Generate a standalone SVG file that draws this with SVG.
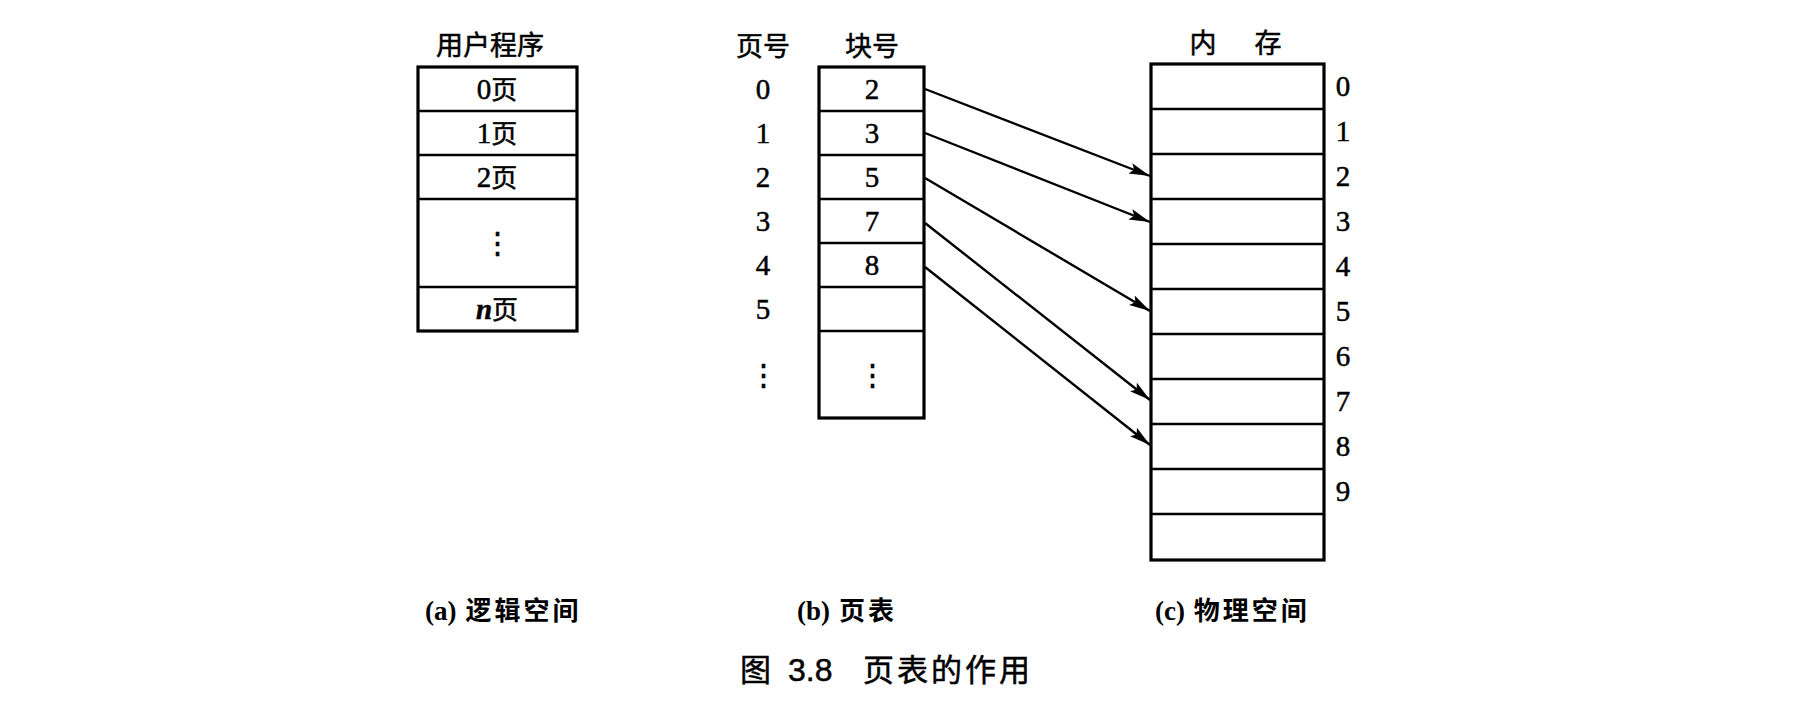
<svg xmlns="http://www.w3.org/2000/svg" width="1796" height="724" viewBox="0 0 1796 724">
<style>
.box{fill:#fff;stroke:#000;stroke-width:3.2}
.ln{stroke:#000;stroke-width:2.4}
.num{font-family:"Liberation Serif","Noto Sans CJK SC",serif;font-size:29px;fill:#000;stroke:#000;stroke-width:0.5;text-anchor:middle}
.cjk{font-family:"Noto Sans CJK SC",sans-serif;font-size:26px}
.hdr{font-family:"Noto Sans CJK SC",sans-serif;font-size:27px;fill:#000;stroke:#000;stroke-width:0.5;text-anchor:middle}
.cap{font-family:"Noto Sans CJK SC",sans-serif;font-size:26px;font-weight:bold;fill:#000;letter-spacing:3px}
.capl{font-family:"Liberation Serif",serif;font-size:27px;font-weight:bold;letter-spacing:0}
.title{font-family:"Noto Sans CJK SC",sans-serif;font-size:31px;fill:#000;stroke:#000;stroke-width:0.5}
.tnum{font-family:"Liberation Sans",sans-serif;font-size:32px}
.conn{stroke:#000;stroke-width:2.4;fill:none;marker-end:url(#ah)}
</style>
<defs>
<marker id="ah" markerUnits="userSpaceOnUse" markerWidth="24" markerHeight="12" refX="21" refY="6" orient="auto">
<path d="M0,0.5 L21,6 L0,11.5 L4,6 z" fill="#000"/>
</marker>
</defs>
<rect width="1796" height="724" fill="#fff"/>

<g id="program">
<text class="hdr" x="490" y="55">用户程序</text>
<rect class="box" x="418" y="67" width="159" height="264"/>
<line class="ln" x1="418" y1="111" x2="577" y2="111"/>
<line class="ln" x1="418" y1="155" x2="577" y2="155"/>
<line class="ln" x1="418" y1="199" x2="577" y2="199"/>
<line class="ln" x1="418" y1="287" x2="577" y2="287"/>
<text class="num" x="497" y="99">0<tspan class="cjk">页</tspan></text>
<text class="num" x="497" y="143">1<tspan class="cjk">页</tspan></text>
<text class="num" x="497" y="187">2<tspan class="cjk">页</tspan></text>
<text class="num" x="497" y="253">⋮</text>
<text class="num" x="497" y="319"><tspan font-style="italic" font-weight="bold">n</tspan><tspan class="cjk">页</tspan></text>
</g>

<g id="pagetable">
<text class="hdr" x="763" y="56">页号</text>
<text class="hdr" x="872" y="56">块号</text>
<rect class="box" x="819" y="67" width="105" height="351"/>
<line class="ln" x1="819" y1="111" x2="924" y2="111"/>
<line class="ln" x1="819" y1="155" x2="924" y2="155"/>
<line class="ln" x1="819" y1="199" x2="924" y2="199"/>
<line class="ln" x1="819" y1="243" x2="924" y2="243"/>
<line class="ln" x1="819" y1="287" x2="924" y2="287"/>
<line class="ln" x1="819" y1="331" x2="924" y2="331"/>
<text class="num" x="763" y="99">0</text>
<text class="num" x="763" y="143">1</text>
<text class="num" x="763" y="187">2</text>
<text class="num" x="763" y="231">3</text>
<text class="num" x="763" y="275">4</text>
<text class="num" x="763" y="319">5</text>
<text class="num" x="763" y="385">⋮</text>
<text class="num" x="872" y="99">2</text>
<text class="num" x="872" y="143">3</text>
<text class="num" x="872" y="187">5</text>
<text class="num" x="872" y="231">7</text>
<text class="num" x="872" y="275">8</text>
<text class="num" x="872" y="385">⋮</text>
</g>

<g id="memory">
<text class="hdr" x="1203" y="53">内</text>
<text class="hdr" x="1268" y="53">存</text>
<rect class="box" x="1151" y="64" width="173" height="496"/>
<line class="ln" x1="1151" y1="109" x2="1324" y2="109"/>
<line class="ln" x1="1151" y1="154" x2="1324" y2="154"/>
<line class="ln" x1="1151" y1="199" x2="1324" y2="199"/>
<line class="ln" x1="1151" y1="244" x2="1324" y2="244"/>
<line class="ln" x1="1151" y1="289" x2="1324" y2="289"/>
<line class="ln" x1="1151" y1="334" x2="1324" y2="334"/>
<line class="ln" x1="1151" y1="379" x2="1324" y2="379"/>
<line class="ln" x1="1151" y1="424" x2="1324" y2="424"/>
<line class="ln" x1="1151" y1="469" x2="1324" y2="469"/>
<line class="ln" x1="1151" y1="514" x2="1324" y2="514"/>
<text class="num" x="1343" y="96">0</text>
<text class="num" x="1343" y="141">1</text>
<text class="num" x="1343" y="186">2</text>
<text class="num" x="1343" y="231">3</text>
<text class="num" x="1343" y="276">4</text>
<text class="num" x="1343" y="321">5</text>
<text class="num" x="1343" y="366">6</text>
<text class="num" x="1343" y="411">7</text>
<text class="num" x="1343" y="456">8</text>
<text class="num" x="1343" y="501">9</text>
</g>

<g id="connectors">
<line class="conn" x1="925" y1="89" x2="1150" y2="176"/>
<line class="conn" x1="925" y1="133" x2="1150" y2="222"/>
<line class="conn" x1="925" y1="178" x2="1150" y2="311"/>
<line class="conn" x1="925" y1="223" x2="1150" y2="400"/>
<line class="conn" x1="925" y1="267" x2="1150" y2="445"/>
</g>

<g id="captions">
<text class="cap" x="425" y="620"><tspan class="capl">(a)</tspan> 逻辑空间</text>
<text class="cap" x="797" y="620"><tspan class="capl">(b)</tspan> 页表</text>
<text class="cap" x="1155" y="620"><tspan class="capl">(c)</tspan> 物理空间</text>
<text class="title" y="681"><tspan x="740">图</tspan><tspan class="tnum" x="788">3.8</tspan><tspan x="863" letter-spacing="3">页表的作用</tspan></text>
</g>
</svg>
